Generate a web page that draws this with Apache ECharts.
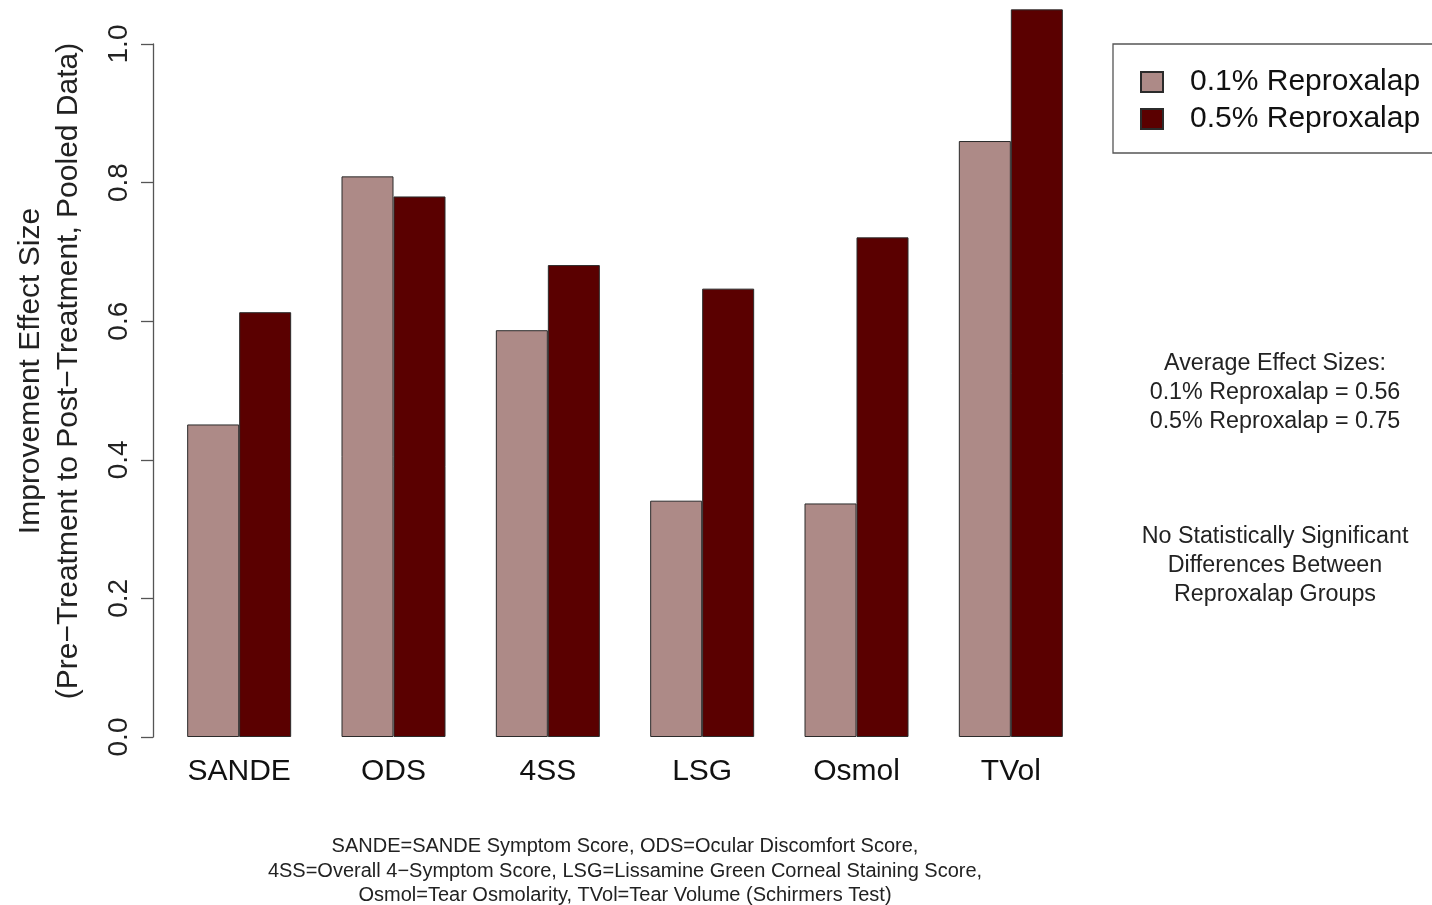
<!DOCTYPE html>
<html>
<head>
<meta charset="utf-8">
<title>Reproxalap effect sizes</title>
<script src="https://cdn.jsdelivr.net/npm/echarts@6/dist/echarts.min.js"></script>
<style>
  html, body { margin: 0; padding: 0; background: #fff; }
  #chart { width: 1432px; height: 905px; }
</style>
</head>
<body>
<div id="chart"></div>
<script>
// values
const categories = ['SANDE', 'ODS', '4SS', 'LSG', 'Osmol', 'TVol'];
const lowDose = [0.451, 0.809, 0.587, 0.341, 0.337, 0.860];
const highDose = [0.613, 0.780, 0.681, 0.647, 0.721, 1.050];
const seriesNames = ['0.1% Reproxalap', '0.5% Reproxalap'];
const yTicks = [0, 0.2, 0.4, 0.6, 0.8, 1.0];

const yTitle = ['Improvement Effect Size', '(Pre\u2212Treatment to Post\u2212Treatment, Pooled Data)'];
const sideNotes = ['Average Effect Sizes:', '0.1% Reproxalap = 0.56', '0.5% Reproxalap = 0.75'];
const sideNotes2 = ['No Statistically Significant', 'Differences Between', 'Reproxalap Groups'];
const footNotes = [
  'SANDE=SANDE Symptom Score, ODS=Ocular Discomfort Score,',
  '4SS=Overall 4\u2212Symptom Score, LSG=Lissamine Green Corneal Staining Score,',
  'Osmol=Tear Osmolarity, TVol=Tear Volume (Schirmers Test)'
];

const FONT = '"Liberation Sans", Arial, Helvetica, sans-serif';
const LIGHT = '#ad8a87';
const DARK = '#5a0000';

const chart = echarts.init(document.getElementById('chart'), null, { renderer: 'canvas' });

const option = {
  animation: false,
  backgroundColor: '#fff',
  textStyle: { fontFamily: FONT },
  grid: { left: 162, width: 926, top: 44, bottom: 168, containLabel: false },
  legend: {
    left: 1113,
    top: 44,
    orient: 'vertical',
    padding: [23, 40, 19, 27],
    itemWidth: 22,
    itemHeight: 20,
    itemGap: 7,
    icon: 'rect',
    borderColor: '#555',
    borderWidth: 1.3,
    borderRadius: 0,
    textStyle: { fontSize: 30, color: '#111', fontFamily: FONT, padding: [2, 0, 0, 22] },
    data: seriesNames
  },
  xAxis: {
    type: 'category',
    data: categories,
    axisLine: { show: false },
    axisTick: { show: false },
    axisLabel: { fontSize: 30, color: '#111', margin: 20, fontFamily: FONT }
  },
  yAxis: {
    type: 'value',
    min: 0,
    max: 1,
    interval: 0.2,
    offset: 9,
    splitLine: { show: false },
    axisLine: { show: true, lineStyle: { color: '#555', width: 1.3 } },
    axisTick: { show: true, length: 12, lineStyle: { color: '#555', width: 1.3 } },
    axisLabel: {
      rotate: 90,
      fontSize: 28,
      color: '#222',
      margin: 20,
      fontFamily: FONT,
      formatter: v => (yTicks.some(t => Math.abs(t - v) < 1e-9) ? v.toFixed(1) : '')
    }
  },
  series: [
    {
      name: seriesNames[0],
      type: 'bar',
      data: lowDose,
      barWidth: 52,
      barGap: '0%',
      clip: false,
      itemStyle: { color: LIGHT, borderColor: '#2b2b2b', borderWidth: 1 }
    },
    {
      name: seriesNames[1],
      type: 'bar',
      data: highDose,
      barWidth: 52,
      barGap: '0%',
      clip: false,
      itemStyle: { color: DARK, borderColor: '#2b2b2b', borderWidth: 1 }
    }
  ],
  graphic: [
    {
      type: 'text',
      x: 49.5,
      y: 371,
      rotation: Math.PI / 2,
      style: {
        text: yTitle.join('\n'),
        font: '30px ' + FONT,
        fill: '#222',
        align: 'center',
        verticalAlign: 'middle',
        lineHeight: 38
      }
    },
    {
      type: 'text',
      x: 1275,
      y: 393,
      style: {
        text: sideNotes.join('\n'),
        font: '23.3px ' + FONT,
        fill: '#222',
        align: 'center',
        verticalAlign: 'middle',
        lineHeight: 29
      }
    },
    {
      type: 'text',
      x: 1275,
      y: 566,
      style: {
        text: sideNotes2.join('\n'),
        font: '23.3px ' + FONT,
        fill: '#222',
        align: 'center',
        verticalAlign: 'middle',
        lineHeight: 29
      }
    },
    {
      type: 'text',
      x: 625,
      y: 871,
      style: {
        text: footNotes.join('\n'),
        font: '20px ' + FONT,
        fill: '#222',
        align: 'center',
        verticalAlign: 'middle',
        lineHeight: 24.5
      }
    }
  ]
};

chart.setOption(option);
window.addEventListener('resize', () => chart.resize());
</script>
</body>
</html>
